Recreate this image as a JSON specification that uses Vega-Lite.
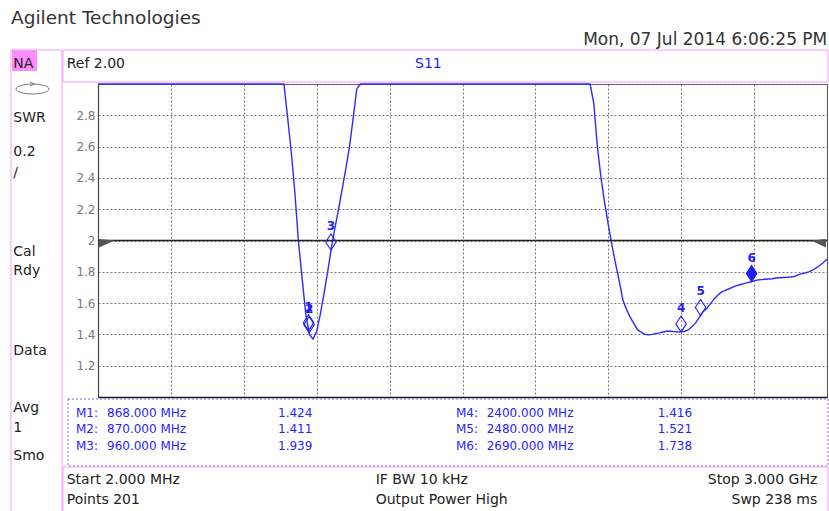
{
  "$schema": "https://vega.github.io/schema/vega-lite/v6.json",
  "width": 729,
  "height": 313,
  "autosize": {"type": "none"},
  "padding": {"left": 98, "top": 84, "right": 2, "bottom": 114},
  "background": "white",
  "config": {
    "view": {"stroke": "#555555", "strokeWidth": 1},
    "font": "DejaVu Sans",
    "text": {"font": "DejaVu Sans"},
    "axis": {"labelOverlap": false},
    "axisY": {"labelOverlap": false, "labelBound": false, "labelSeparation": 0}
  },
  "datasets": {
    "trace": [
      {"f": 2, "swr": 3}, {"f": 151.9, "swr": 3}, {"f": 301.8, "swr": 3}, {"f": 451.7, "swr": 3},
      {"f": 601.6, "swr": 3}, {"f": 751.5, "swr": 3}, {"f": 766.5, "swr": 3}, {"f": 781.5, "swr": 2.79},
      {"f": 796.5, "swr": 2.57}, {"f": 811.5, "swr": 2.31}, {"f": 826.5, "swr": 1.99}, {"f": 841.4, "swr": 1.76},
      {"f": 856.4, "swr": 1.53}, {"f": 871.4, "swr": 1.40}, {"f": 886.4, "swr": 1.37}, {"f": 901.4, "swr": 1.42},
      {"f": 916.4, "swr": 1.53}, {"f": 931.4, "swr": 1.66}, {"f": 946.4, "swr": 1.80}, {"f": 961.4, "swr": 1.95},
      {"f": 976.4, "swr": 2.08}, {"f": 991.3, "swr": 2.20}, {"f": 1006.3, "swr": 2.33}, {"f": 1021.3, "swr": 2.46},
      {"f": 1036.3, "swr": 2.60}, {"f": 1051.3, "swr": 2.78}, {"f": 1066.3, "swr": 2.97}, {"f": 1081.3, "swr": 3},
      {"f": 1201.2, "swr": 3}, {"f": 1351.1, "swr": 3}, {"f": 1501.0, "swr": 3}, {"f": 1650.9, "swr": 3},
      {"f": 1800.8, "swr": 3}, {"f": 1950.7, "swr": 3}, {"f": 2025.7, "swr": 3}, {"f": 2040.6, "swr": 2.88},
      {"f": 2055.6, "swr": 2.60}, {"f": 2070.6, "swr": 2.40}, {"f": 2085.6, "swr": 2.24}, {"f": 2100.6, "swr": 2.10},
      {"f": 2115.6, "swr": 1.97}, {"f": 2130.6, "swr": 1.85}, {"f": 2145.6, "swr": 1.74}, {"f": 2160.6, "swr": 1.62},
      {"f": 2175.6, "swr": 1.56}, {"f": 2190.5, "swr": 1.51}, {"f": 2205.5, "swr": 1.47}, {"f": 2220.5, "swr": 1.43},
      {"f": 2235.5, "swr": 1.415}, {"f": 2250.5, "swr": 1.40}, {"f": 2265.5, "swr": 1.398}, {"f": 2280.5, "swr": 1.40},
      {"f": 2295.5, "swr": 1.405}, {"f": 2310.5, "swr": 1.41}, {"f": 2325.5, "swr": 1.415}, {"f": 2340.4, "swr": 1.42},
      {"f": 2355.4, "swr": 1.42}, {"f": 2370.4, "swr": 1.418}, {"f": 2385.4, "swr": 1.415}, {"f": 2400.4, "swr": 1.416},
      {"f": 2415.4, "swr": 1.42}, {"f": 2430.4, "swr": 1.43}, {"f": 2445.4, "swr": 1.45}, {"f": 2460.4, "swr": 1.475},
      {"f": 2475.4, "swr": 1.51}, {"f": 2490.3, "swr": 1.545}, {"f": 2505.3, "swr": 1.565}, {"f": 2520.3, "swr": 1.595},
      {"f": 2535.3, "swr": 1.625}, {"f": 2550.3, "swr": 1.65}, {"f": 2565.3, "swr": 1.67}, {"f": 2580.3, "swr": 1.68},
      {"f": 2595.3, "swr": 1.69}, {"f": 2610.3, "swr": 1.70}, {"f": 2625.3, "swr": 1.71}, {"f": 2640.2, "swr": 1.717},
      {"f": 2655.2, "swr": 1.723}, {"f": 2670.2, "swr": 1.729}, {"f": 2685.2, "swr": 1.735}, {"f": 2700.2, "swr": 1.742},
      {"f": 2715.2, "swr": 1.748}, {"f": 2730.2, "swr": 1.75}, {"f": 2745.2, "swr": 1.752}, {"f": 2760.2, "swr": 1.754},
      {"f": 2775.2, "swr": 1.756}, {"f": 2790.1, "swr": 1.76}, {"f": 2805.1, "swr": 1.762}, {"f": 2820.1, "swr": 1.764},
      {"f": 2835.1, "swr": 1.765}, {"f": 2850.1, "swr": 1.767}, {"f": 2865.1, "swr": 1.77}, {"f": 2880.1, "swr": 1.78},
      {"f": 2895.1, "swr": 1.787}, {"f": 2910.1, "swr": 1.793}, {"f": 2925.1, "swr": 1.80}, {"f": 2940.0, "swr": 1.81},
      {"f": 2955.0, "swr": 1.825}, {"f": 2970.0, "swr": 1.84}, {"f": 2985.0, "swr": 1.86}, {"f": 3000, "swr": 1.88}
    ],
    "markers": [
      {"m": 1, "f": 868, "v": 1.424},
      {"m": 2, "f": 870, "v": 1.411},
      {"m": 3, "f": 960, "v": 1.939},
      {"m": 4, "f": 2400, "v": 1.416},
      {"m": 5, "f": 2480, "v": 1.521},
      {"m": 6, "f": 2690, "v": 1.738}
    ]
  },
  "layer": [
    {
      "data": {"name": "trace"},
      "mark": {"type": "line", "color": "#2b2bff", "strokeWidth": 1.4, "clip": false},
      "encoding": {
        "x": {
          "field": "f", "type": "quantitative",
          "scale": {"type": "linear", "domain": [2, 3000], "nice": false, "zero": false},
          "axis": {
            "title": null,
            "values": [301.8, 601.6, 901.4, 1201.2, 1501.0, 1800.8, 2100.6, 2400.4, 2700.2],
            "labels": false, "ticks": false,
            "grid": true, "gridDash": [2, 2], "gridColor": "#777777", "gridWidth": 1,
            "domain": true, "domainColor": "#1a1a1a", "domainWidth": 1.5
          }
        },
        "y": {
          "field": "swr", "type": "quantitative",
          "scale": {"domain": [1, 3], "nice": false, "zero": false},
          "axis": {
            "title": null,
            "tickCount": 10,
            "format": ".1~f",
            "labelExpr": "datum.value <= 1.01 || datum.value >= 2.99 ? '' : datum.label",
            "labelOverlap": false,
            "labelBound": false,
            "ticks": false,
            "grid": true, "gridDash": [2, 2], "gridColor": "#777777", "gridWidth": 1,
            "domain": true, "domainColor": "#444444", "domainWidth": 1.2,
            "labelColor": "#7a7a7a", "labelFont": "DejaVu Sans", "labelFontSize": 12, "labelPadding": 3
          }
        }
      }
    },
    {
      "data": {"values": [{"ref": 2}]},
      "mark": {"type": "rule", "color": "#222222", "strokeWidth": 1.3},
      "encoding": {"y": {"field": "ref", "type": "quantitative"}}
    },
    {
      "data": {"values": [{"ref": 2}]},
      "mark": {"type": "point", "shape": "M0.125,-0.19L2.1,0L0.125,0.875Z", "size": 256, "filled": true, "color": "#555555", "opacity": 1},
      "encoding": {"x": {"datum": 2, "type": "quantitative"}, "y": {"field": "ref", "type": "quantitative"}}
    },
    {
      "data": {"values": [{"ref": 2}]},
      "mark": {"type": "point", "shape": "M-0.125,-0.19L-2,0L-0.125,0.875Z", "size": 256, "filled": true, "color": "#555555", "opacity": 1},
      "encoding": {"x": {"datum": 3000, "type": "quantitative"}, "y": {"field": "ref", "type": "quantitative"}}
    },
    {
      "data": {"name": "markers"},
      "mark": {"type": "point", "shape": "M0,0L-0.66,-1L0,-2L0.66,-1Z", "size": 256, "filled": true, "opacity": 1, "strokeWidth": 1.1, "stroke": "#1e1eff"},
      "encoding": {
        "x": {"field": "f", "type": "quantitative"},
        "y": {"field": "v", "type": "quantitative"},
        "fill": {"condition": {"test": "datum.m === 6", "value": "#1e1eff"}, "value": "transparent"}
      }
    },
    {
      "data": {"name": "markers"},
      "mark": {"type": "text", "dy": -24, "baseline": "middle", "align": "center", "fontSize": 12, "fontWeight": "bold", "color": "#1e1eff"},
      "encoding": {
        "x": {"field": "f", "type": "quantitative"},
        "y": {"field": "v", "type": "quantitative"},
        "text": {"field": "m", "type": "nominal"}
      }
    },
    {
      "data": {"name": "markers"},
      "transform": [
        {"calculate": "'M' + datum.m + ':'", "as": "lab"},
        {"calculate": "format(datum.f, '.3f') + ' MHz'", "as": "freq"},
        {"calculate": "format(datum.v, '.3f')", "as": "val"},
        {"calculate": "datum.m <= 3 ? -88.5 : 1474.3", "as": "xl"},
        {"calculate": "datum.m <= 3 ? 39.0 : 1600.5", "as": "xf"},
        {"calculate": "datum.m <= 3 ? 742.3 : 2303.8", "as": "xv"},
        {"calculate": "0.8741 - 0.1064 * ((datum.m - 1) % 3)", "as": "yr"}
      ],
      "layer": [
        {
          "mark": {"type": "text", "align": "left", "baseline": "alphabetic", "fontSize": 12, "color": "#2525ff"},
          "encoding": {"x": {"field": "xl", "type": "quantitative"}, "y": {"field": "yr", "type": "quantitative"}, "text": {"field": "lab"}}
        },
        {
          "mark": {"type": "text", "align": "left", "baseline": "alphabetic", "fontSize": 12, "color": "#2525ff"},
          "encoding": {"x": {"field": "xf", "type": "quantitative"}, "y": {"field": "yr", "type": "quantitative"}, "text": {"field": "freq"}}
        },
        {
          "mark": {"type": "text", "align": "left", "baseline": "alphabetic", "fontSize": 12, "color": "#2525ff"},
          "encoding": {"x": {"field": "xv", "type": "quantitative"}, "y": {"field": "yr", "type": "quantitative"}, "text": {"field": "val"}}
        }
      ]
    },
    {
      "data": {"values": [{}]},
      "layer": [
        {
          "mark": {"type": "rect", "fill": "#ff8cff"},
          "encoding": {"x": {"datum": -351.7, "type": "quantitative"}, "x2": {"datum": -248.9}, "y": {"datum": 3.2173, "type": "quantitative"}, "y2": {"datum": 3.0831}}
        },
        {
          "mark": {"type": "rect", "fill": "transparent", "stroke": "#ff99ff", "strokeWidth": 1},
          "encoding": {"x": {"datum": -355.8, "type": "quantitative"}, "x2": {"datum": -146.05}, "y": {"datum": 3.2173, "type": "quantitative"}, "y2": {"datum": 0.2652}}
        },
        {
          "mark": {"type": "rect", "fill": "transparent", "stroke": "#ff99ff", "strokeWidth": 1},
          "encoding": {"x": {"datum": -141.9, "type": "quantitative"}, "x2": {"datum": 3004.1}, "y": {"datum": 3.2173, "type": "quantitative"}, "y2": {"datum": 3.0128}}
        },
        {
          "mark": {"type": "rect", "fill": "transparent", "stroke": "#8a5cf0", "strokeWidth": 1, "strokeDash": [2, 2]},
          "encoding": {"x": {"datum": -121.4, "type": "quantitative"}, "x2": {"datum": 3004.1}, "y": {"datum": 0.9872, "type": "quantitative"}, "y2": {"datum": 0.5591}}
        },
        {
          "mark": {"type": "rect", "fill": "transparent", "stroke": "#ff99ff", "strokeWidth": 1},
          "encoding": {"x": {"datum": -141.9, "type": "quantitative"}, "x2": {"datum": 3004.1}, "y": {"datum": 0.5527, "type": "quantitative"}, "y2": {"datum": 0.2652}}
        },
        {
          "mark": {"type": "point", "shape": "M-1,0A1,0.3,0,1,0,1,0A1,0.3,0,1,0,-1,0ZM-0.15,-0.42L0.12,-0.3L-0.15,-0.18", "size": 1089, "filled": false, "stroke": "#777777", "strokeWidth": 1, "opacity": 1},
          "encoding": {"x": {"datum": -267.4, "type": "quantitative"}, "y": {"datum": 2.968, "type": "quantitative"}}
        },
        {
          "mark": {"type": "text", "align": "left", "baseline": "alphabetic", "fontSize": 18.5, "color": "#333333", "text": "Agilent Technologies"},
          "encoding": {"x": {"datum": -355.8, "type": "quantitative"}, "y": {"datum": 3.3834, "type": "quantitative"}}
        },
        {
          "mark": {"type": "text", "align": "right", "baseline": "alphabetic", "fontSize": 17, "color": "#333333", "text": "Mon, 07 Jul 2014 6:06:25 PM"},
          "encoding": {"x": {"datum": 3001.2, "type": "quantitative"}, "y": {"datum": 3.2492, "type": "quantitative"}}
        },
        {
          "mark": {"type": "text", "align": "left", "baseline": "alphabetic", "fontSize": 14, "color": "#222222", "text": "NA"},
          "encoding": {"x": {"datum": -346.3, "type": "quantitative"}, "y": {"datum": 3.1003, "type": "quantitative"}}
        },
        {
          "mark": {"type": "text", "align": "left", "baseline": "alphabetic", "fontSize": 14, "color": "#222222", "text": "SWR"},
          "encoding": {"x": {"datum": -346.3, "type": "quantitative"}, "y": {"datum": 2.7553, "type": "quantitative"}}
        },
        {
          "mark": {"type": "text", "align": "left", "baseline": "alphabetic", "fontSize": 14, "color": "#222222", "text": "0.2"},
          "encoding": {"x": {"datum": -346.3, "type": "quantitative"}, "y": {"datum": 2.5419, "type": "quantitative"}}
        },
        {
          "mark": {"type": "text", "align": "left", "baseline": "alphabetic", "fontSize": 14, "color": "#222222", "text": "/"},
          "encoding": {"x": {"datum": -346.3, "type": "quantitative"}, "y": {"datum": 2.4058, "type": "quantitative"}}
        },
        {
          "mark": {"type": "text", "align": "left", "baseline": "alphabetic", "fontSize": 14, "color": "#222222", "text": "Cal"},
          "encoding": {"x": {"datum": -346.3, "type": "quantitative"}, "y": {"datum": 1.901, "type": "quantitative"}}
        },
        {
          "mark": {"type": "text", "align": "left", "baseline": "alphabetic", "fontSize": 14, "color": "#222222", "text": "Rdy"},
          "encoding": {"x": {"datum": -346.3, "type": "quantitative"}, "y": {"datum": 1.7796, "type": "quantitative"}}
        },
        {
          "mark": {"type": "text", "align": "left", "baseline": "alphabetic", "fontSize": 14, "color": "#222222", "text": "Data"},
          "encoding": {"x": {"datum": -346.3, "type": "quantitative"}, "y": {"datum": 1.2684, "type": "quantitative"}}
        },
        {
          "mark": {"type": "text", "align": "left", "baseline": "alphabetic", "fontSize": 14, "color": "#222222", "text": "Avg"},
          "encoding": {"x": {"datum": -346.3, "type": "quantitative"}, "y": {"datum": 0.9022, "type": "quantitative"}}
        },
        {
          "mark": {"type": "text", "align": "left", "baseline": "alphabetic", "fontSize": 14, "color": "#222222", "text": "1"},
          "encoding": {"x": {"datum": -346.3, "type": "quantitative"}, "y": {"datum": 0.7744, "type": "quantitative"}}
        },
        {
          "mark": {"type": "text", "align": "left", "baseline": "alphabetic", "fontSize": 14, "color": "#222222", "text": "Smo"},
          "encoding": {"x": {"datum": -346.3, "type": "quantitative"}, "y": {"datum": 0.5974, "type": "quantitative"}}
        },
        {
          "mark": {"type": "text", "align": "left", "baseline": "alphabetic", "fontSize": 14, "color": "#222222", "text": "Ref 2.00"},
          "encoding": {"x": {"datum": -126.7, "type": "quantitative"}, "y": {"datum": 3.1003, "type": "quantitative"}}
        },
        {
          "mark": {"type": "text", "align": "left", "baseline": "alphabetic", "fontSize": 14, "color": "#2525ff", "text": "S11"},
          "encoding": {"x": {"datum": 1305.7, "type": "quantitative"}, "y": {"datum": 3.1003, "type": "quantitative"}}
        },
        {
          "mark": {"type": "text", "align": "left", "baseline": "alphabetic", "fontSize": 14, "color": "#222222", "text": "Start 2.000 MHz"},
          "encoding": {"x": {"datum": -126.7, "type": "quantitative"}, "y": {"datum": 0.4422, "type": "quantitative"}}
        },
        {
          "mark": {"type": "text", "align": "left", "baseline": "alphabetic", "fontSize": 14, "color": "#222222", "text": "Points 201"},
          "encoding": {"x": {"datum": -126.7, "type": "quantitative"}, "y": {"datum": 0.3163, "type": "quantitative"}}
        },
        {
          "mark": {"type": "text", "align": "left", "baseline": "alphabetic", "fontSize": 14, "color": "#222222", "text": "IF BW 10 kHz"},
          "encoding": {"x": {"datum": 1144.0, "type": "quantitative"}, "y": {"datum": 0.4422, "type": "quantitative"}}
        },
        {
          "mark": {"type": "text", "align": "left", "baseline": "alphabetic", "fontSize": 14, "color": "#222222", "text": "Output Power High"},
          "encoding": {"x": {"datum": 1144.0, "type": "quantitative"}, "y": {"datum": 0.3163, "type": "quantitative"}}
        },
        {
          "mark": {"type": "text", "align": "right", "baseline": "alphabetic", "fontSize": 14, "color": "#222222", "text": "Stop 3.000 GHz"},
          "encoding": {"x": {"datum": 2960.1, "type": "quantitative"}, "y": {"datum": 0.4422, "type": "quantitative"}}
        },
        {
          "mark": {"type": "text", "align": "right", "baseline": "alphabetic", "fontSize": 14, "color": "#222222", "text": "Swp 238 ms"},
          "encoding": {"x": {"datum": 2960.1, "type": "quantitative"}, "y": {"datum": 0.3163, "type": "quantitative"}}
        }
      ]
    }
  ]
}
